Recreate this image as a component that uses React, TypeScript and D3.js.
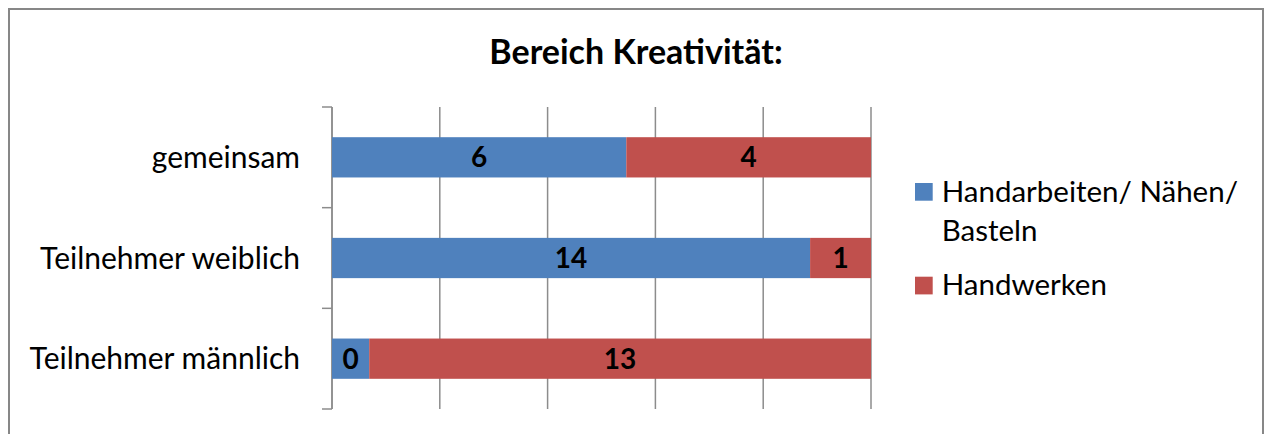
import React from "react";
import * as d3 from "d3";

const categories = ["gemeinsam", "Teilnehmer weiblich", "Teilnehmer männlich"];
const seriesNames = ["Handarbeiten/ Nähen/ Basteln", "Handwerken"];
// bar shares (percent of full bar)
const handarbeitenShare = [54.6, 88.7, 6.9];
const handwerkenShare = [45.4, 11.3, 93.1];
// data labels printed on the bars
const handarbeitenLabels = ["6", "14", "0"];
const handwerkenLabels = ["4", "1", "13"];
const xTicks = [0, 20, 40, 60, 80, 100];

const W = 1265;
const H = 434;
const colors = ["#4F81BD", "#C0504D"];
const FONT = "Lato, 'Noto Sans', sans-serif";

export default function App() {
  const x = d3.scaleLinear().domain([0, 100]).range([332, 871]);
  const y = d3
    .scaleBand<string>()
    .domain(categories)
    .range([107, 409])
    .paddingInner(0.6)
    .paddingOuter(0.3);
  const step = y.step();
  const boundaries = d3.range(categories.length + 1).map((i) => 107 + i * step);

  const stacked = categories.map((c, i) => {
    const a = handarbeitenShare[i];
    const b = handwerkenShare[i];
    return [
      { x0: 0, x1: a, label: handarbeitenLabels[i], color: colors[0] },
      { x0: a, x1: a + b, label: handwerkenLabels[i], color: colors[1] },
    ];
  });

  return (
    <svg
      width={W}
      height={H}
      style={{ position: "absolute", left: 0, top: 0, background: "#fff" }}
      fontFamily={FONT}
    >
      <rect x={0} y={0} width={W} height={H} fill="#fff" />
      <rect x={9} y={9} width={1254} height={440} fill="#fff" stroke="#878787" strokeWidth={2} />
      <text x={636} y={64} textAnchor="middle" fontSize={34} fontWeight="bold" fill="#000">
        Bereich Kreativität:
      </text>
      {xTicks.map((t) => (
        <line key={t} x1={x(t)} x2={x(t)} y1={107} y2={409} stroke="#8c8c8c" strokeWidth={1.5} />
      ))}
      {boundaries.map((b, i) => (
        <line key={i} x1={322} x2={332} y1={b} y2={b} stroke="#8c8c8c" strokeWidth={1.5} />
      ))}
      <line x1={332} x2={332} y1={107} y2={409} stroke="#8c8c8c" strokeWidth={1.5} />
      {categories.map((c, i) => (
        <g key={c}>
          {stacked[i].map((s, j) => (
            <rect
              key={j}
              x={x(s.x0)}
              y={y(c)!}
              width={x(s.x1) - x(s.x0)}
              height={y.bandwidth()}
              fill={s.color}
            />
          ))}
          {stacked[i].map((s, j) => (
            <text
              key={"l" + j}
              x={(x(s.x0) + x(s.x1)) / 2}
              y={y(c)! + y.bandwidth() / 2}
              dy="0.36em"
              textAnchor="middle"
              fontSize={28}
              fontWeight="bold"
              fill="#000"
            >
              {s.label}
            </text>
          ))}
          <text
            x={300}
            y={y(c)! + y.bandwidth() / 2}
            dy="0.36em"
            textAnchor="end"
            fontSize={30}
            fill="#000"
          >
            {c}
          </text>
        </g>
      ))}
      <g>
        <rect x={915} y={183} width={17.7} height={17.7} fill={colors[0]} />
        <text x={941.7} y={202} fontSize={29.5} fill="#000">
          Handarbeiten/ Nähen/
        </text>
        <text x={941.7} y={241} fontSize={29.5} fill="#000">
          Basteln
        </text>
        <rect x={915} y={276.7} width={17.7} height={17.7} fill={colors[1]} />
        <text x={941.7} y={295} fontSize={29.5} fill="#000">
          {seriesNames[1]}
        </text>
      </g>
    </svg>
  );
}
